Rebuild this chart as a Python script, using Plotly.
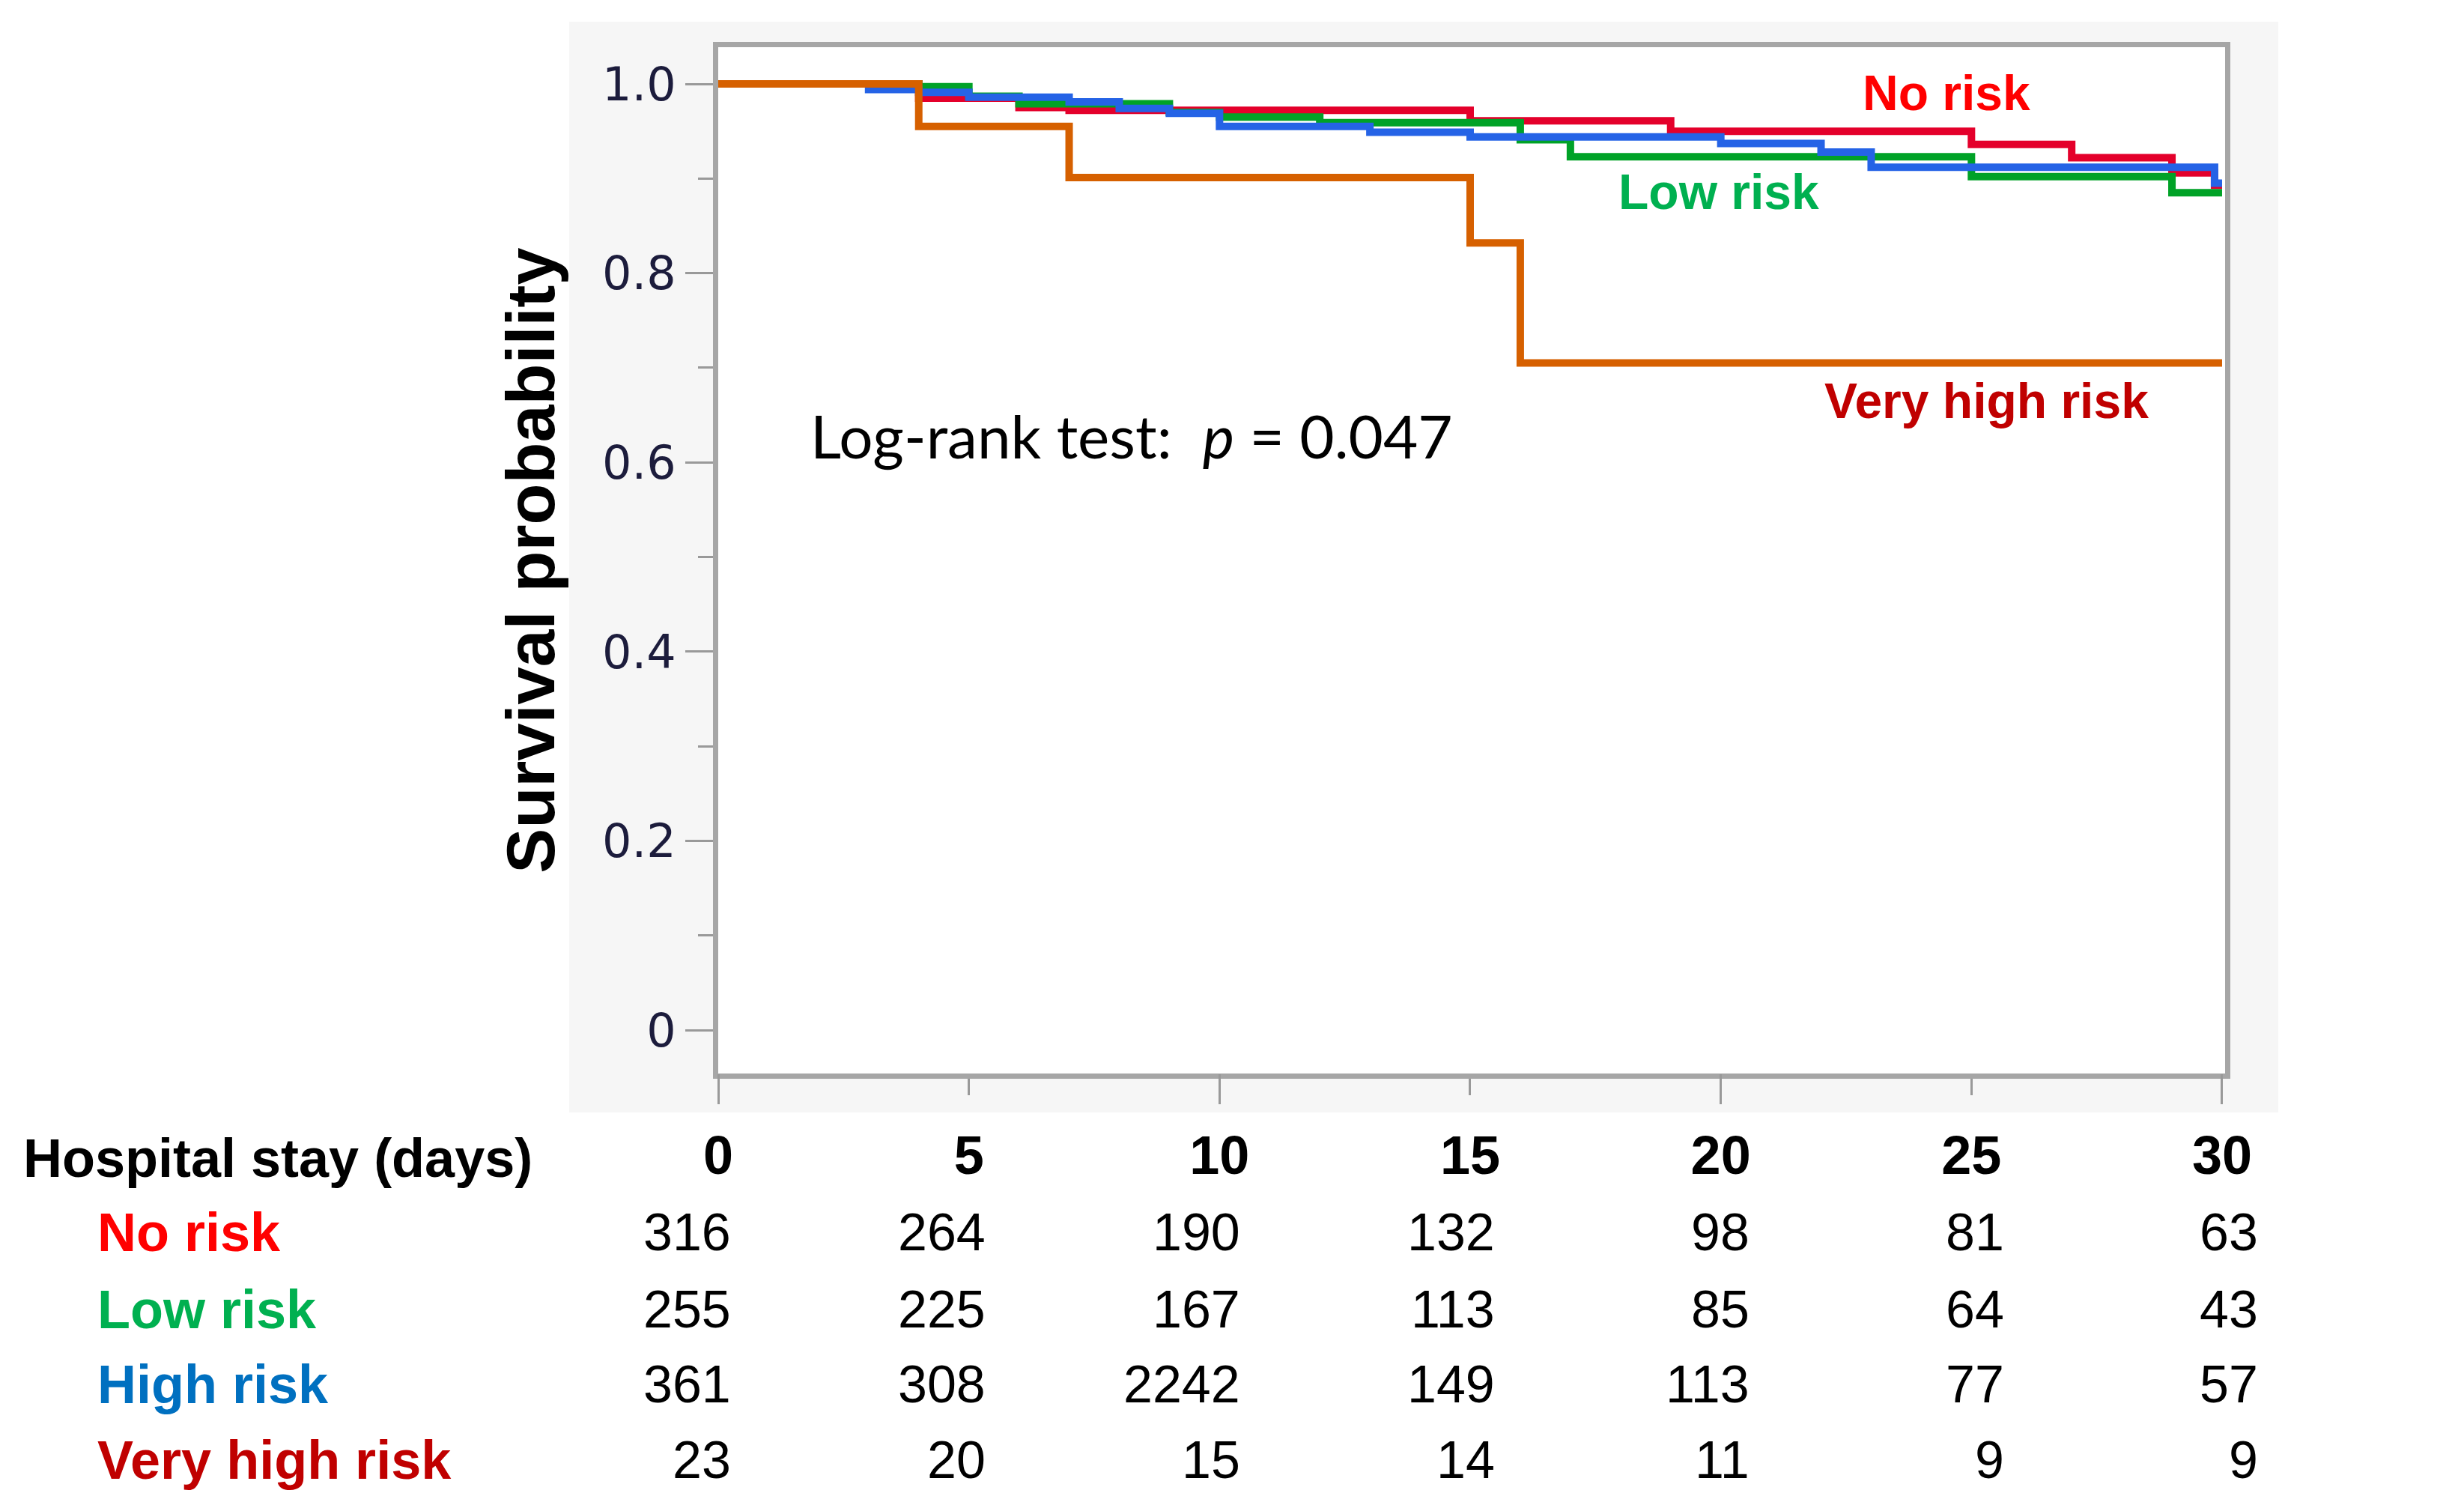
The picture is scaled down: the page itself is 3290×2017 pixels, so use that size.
import plotly.graph_objects as go

# ---------------- data ----------------
tick_days = [0, 5, 10, 15, 20, 25, 30]
groups = ["No risk", "Low risk", "High risk", "Very high risk"]

no_risk_t = [0, 4, 6, 7, 15, 19, 25, 27, 29, 29.85, 30]
no_risk_s = [1.0, 0.985, 0.975, 0.972, 0.961, 0.950, 0.936, 0.922, 0.906, 0.893, 0.893]

low_risk_t = [0, 4, 5, 6, 9, 10, 12, 16, 17, 25, 29, 30]
low_risk_s = [1.0, 0.997, 0.987, 0.979, 0.970, 0.965, 0.959, 0.941, 0.923, 0.902, 0.885, 0.885]

high_risk_t = [0, 3, 4, 5, 7, 8, 9, 10, 13, 15, 20, 22, 23, 29.85, 30]
high_risk_s = [1.0, 0.994, 0.991, 0.986, 0.981, 0.974, 0.969, 0.955, 0.949, 0.944, 0.937, 0.928, 0.912, 0.895, 0.895]

very_high_t = [0, 4, 7, 15, 16, 30]
very_high_s = [1.0, 0.955, 0.901, 0.832, 0.705, 0.705]

at_risk_no = [316, 264, 190, 132, 98, 81, 63]
at_risk_low = [255, 225, 167, 113, 85, 64, 43]
at_risk_high = [361, 308, 2242, 149, 113, 77, 57]
at_risk_very = [23, 20, 15, 14, 11, 9, 9]

# ---------------- styles ----------------
line_colors = ["#E4002B", "#00A227", "#2563E6", "#D66000"]
label_colors = ["#FF0000", "#00B050", "#0070C0", "#C00000"]
AX = "#A6A6A6"
FONT = "Liberation Sans, Arial, sans-serif"

OFF = 8  # page body margin
W, H = 3290, 2017
PL, PR, PT, PB = 959, 2971, 63, 1433   # plot area in page pixels
L, T = PL - OFF, PT - OFF
R, B = W - (PR - OFF), H - (PB - OFF)
pw, ph = PR - PL, PB - PT

def px_x(x):
    return (x - PL) / pw

def px_y(y):
    return (PB - y) / ph

fig = go.Figure()

series = [(no_risk_t, no_risk_s), (low_risk_t, low_risk_s),
          (high_risk_t, high_risk_s), (very_high_t, very_high_s)]
for (t, s), name, col in zip(series, groups, line_colors):
    fig.add_trace(go.Scatter(x=t, y=s, mode="lines", name=name,
                             line=dict(color=col, width=10, shape="hv"),
                             showlegend=False, hoverinfo="skip"))

# dummy trace for the overlay axis that draws the long ticks
fig.add_trace(go.Scatter(x=[None], y=[None], xaxis="x2", yaxis="y",
                         showlegend=False, hoverinfo="skip"))

# ---------------- panel background ----------------
shapes = [
    dict(type="rect", xref="paper", yref="paper", layer="below",
         x0=px_x(760), x1=px_x(3042), y0=px_y(1485), y1=px_y(29),
         fillcolor="#F6F6F6", line=dict(width=0)),
    dict(type="rect", xref="paper", yref="paper", layer="below",
         x0=0, x1=1, y0=0, y1=1, fillcolor="white", line=dict(width=0)),
]

# ---------------- annotations ----------------
ann = []
curve_labels = [
    ("No risk", 24.5, 0.9905, "center", label_colors[0]),
    ("Low risk", 19.96, 0.886, "center", label_colors[1]),
    ("High risk", 30.24, 0.916, "left", label_colors[2]),
    ("Very high risk", 25.3, 0.665, "center", label_colors[3]),
]
for txt, x, y, xa, col in curve_labels:
    ann.append(dict(text=f"<b>{txt}</b>", x=x, y=y, xref="x", yref="y",
                    xanchor=xa, yanchor="middle", showarrow=False,
                    font=dict(family=FONT, size=66, color=col)))

ann.append(dict(text="Log-rank test:  <i>p</i> = 0.047", x=1.81, y=0.629,
                xref="x", yref="y", xanchor="left", yanchor="middle",
                showarrow=False, font=dict(family="Lato, Carlito, sans-serif", size=80, color="black")))

# risk table
ann.append(dict(text="<b>Hospital stay (days)</b>", x=px_x(29), y=px_y(1546),
                xref="paper", yref="paper", xanchor="left", yanchor="middle",
                showarrow=False, font=dict(family=FONT, size=72, color="black")))
row_y = [1645, 1748, 1848, 1949]
tables = [at_risk_no, at_risk_low, at_risk_high, at_risk_very]
for name, col, ry, vals in zip(groups, label_colors, row_y, tables):
    ann.append(dict(text=f"<b>{name}</b>", x=px_x(128), y=px_y(ry),
                    xref="paper", yref="paper", xanchor="left", yanchor="middle",
                    showarrow=False, font=dict(family=FONT, size=72, color=col)))
    for d, v in zip(tick_days, vals):
        ann.append(dict(text=str(v), x=d, y=px_y(ry), xref="x", yref="paper",
                        xanchor="right", yanchor="middle", xshift=19 + 1.05 * d,
                        showarrow=False, font=dict(family=FONT, size=70, color="black")))

fig.update_layout(
    width=W, height=H,
    margin=dict(l=L, r=R, t=T, b=B, pad=0),
    paper_bgcolor="white", plot_bgcolor="rgba(0,0,0,0)",
    shapes=shapes, annotations=ann, showlegend=False,
    xaxis=dict(range=[0, 30.06], tickvals=tick_days, ticktext=[str(d) for d in tick_days],
               ticks="outside", ticklen=22, tickwidth=3, tickcolor="#999999",
               showline=True, linewidth=7, linecolor=AX, mirror=True,
               showgrid=False, zeroline=False,
               tickfont=dict(family=FONT, size=72, color="black", weight="bold"),
               ticklabelstandoff=19),
    xaxis2=dict(overlaying="x", matches="x", anchor="y", side="bottom",
                tickvals=[0, 10, 20, 30], ticks="outside", ticklen=40, tickwidth=3,
                tickcolor="#999999", showticklabels=False, showline=False,
                showgrid=False, zeroline=False),
    yaxis=dict(range=[-0.0459, 1.0388], tickvals=[0, 0.2, 0.4, 0.6, 0.8, 1.0],
               ticktext=["0", "0.2", "0.4", "0.6", "0.8", "1.0"],
               ticks="outside", ticklen=37, tickwidth=3, tickcolor="#999999",
               minor=dict(tickvals=[0.1, 0.3, 0.5, 0.7, 0.9], ticks="outside",
                          ticklen=20, tickwidth=3, tickcolor="#999999"),
               showline=True, linewidth=7, linecolor=AX, mirror=True,
               showgrid=False, zeroline=False,
               tickfont=dict(family="DejaVu Sans, sans-serif", size=62, color="#1C1C3C"),
               ticklabelstandoff=0,
               title=dict(text="<b>Survival probability</b>", standoff=36,
                          font=dict(family=FONT, size=90, color="black"))),
)

fig.write_html("out.html")
